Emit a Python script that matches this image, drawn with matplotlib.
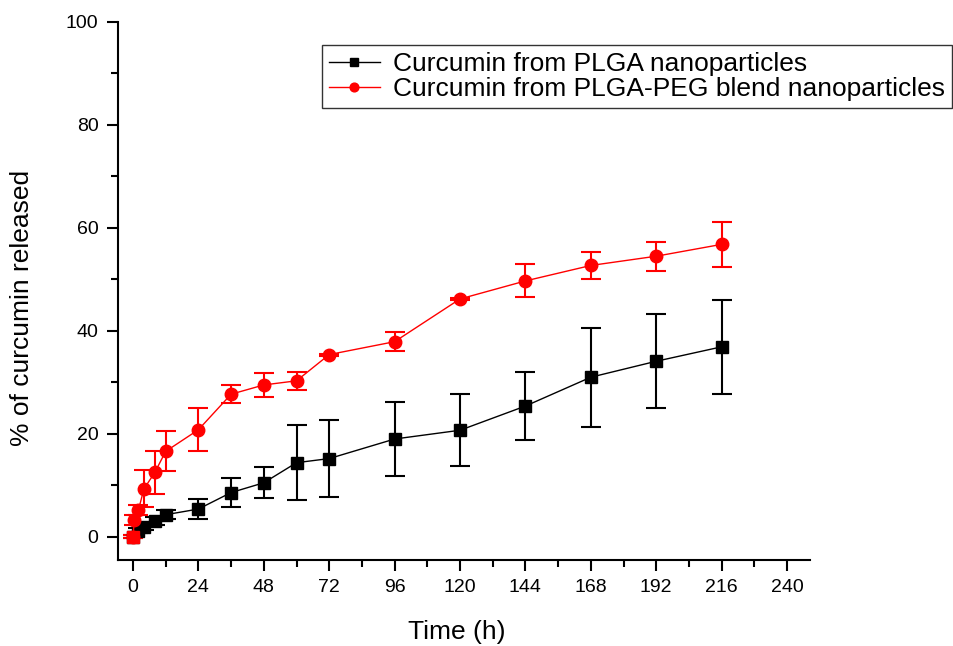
import matplotlib
matplotlib.use("Agg")
import matplotlib.pyplot as plt
from matplotlib.ticker import MultipleLocator

plt.rcParams["font.family"] = ["Liberation Sans", "DejaVu Sans"]

# Cumulative release (%) with SD, PLGA nanoparticles
t_plga = [0, 2, 4, 8, 12, 24, 36, 48, 60, 72, 96, 120, 144, 168, 192, 216]
plga = [0, 1.2, 2.0, 3.1, 4.3, 5.4, 8.6, 10.5, 14.4, 15.2, 19.0, 20.7, 25.4, 31.0, 34.1, 36.9]
plga_err = [0.3, 0.5, 0.6, 0.8, 0.9, 1.9, 2.8, 3.0, 7.3, 7.5, 7.2, 7.0, 6.6, 9.6, 9.1, 9.1]

# Cumulative release (%) with SD, PLGA-PEG blend nanoparticles
t_peg = [0, 0.5, 2, 4, 8, 12, 24, 36, 48, 60, 72, 96, 120, 144, 168, 192, 216]
peg = [0, 3.3, 5.2, 9.3, 12.5, 16.6, 20.8, 27.7, 29.5, 30.3, 35.4, 37.9, 46.2, 49.7, 52.7, 54.5, 56.8]
peg_err = [0.3, 1.0, 1.0, 3.6, 4.2, 3.9, 4.2, 1.8, 2.3, 1.8, 0.2, 1.8, 0.2, 3.2, 2.6, 2.8, 4.4]

labels = ["Curcumin from PLGA nanoparticles",
          "Curcumin from PLGA-PEG blend nanoparticles"]
x_ticks = [0, 24, 48, 72, 96, 120, 144, 168, 192, 216, 240]

fig = plt.figure(figsize=(9.54, 6.46), dpi=100)
ax = fig.add_axes([0.1237, 0.1331, 0.7253, 0.833])

# error bars first, lines and markers on top
ax.errorbar(t_plga, plga, yerr=plga_err, fmt="none", ecolor="black",
            elinewidth=1.5, capsize=7.5, capthick=1.5, zorder=2)
ax.errorbar(t_peg, peg, yerr=peg_err, fmt="none", ecolor="red",
            elinewidth=1.5, capsize=7.5, capthick=1.5, zorder=3)
h1, = ax.plot(t_plga, plga, color="black", lw=1.0, marker="s", ms=8.5,
              mec="black", label=labels[0], zorder=4)
h2, = ax.plot(t_peg, peg, color="red", lw=1.0, marker="o", ms=9,
              mec="red", label=labels[1], zorder=5)
# first PEG point sits on the PLGA start
ax.plot(t_peg[:1], peg[:1], "s", color="red", ms=8.5, zorder=6)

ax.set_xlim(-5.5, 248.4)
ax.set_ylim(-4.5, 100)
ax.set_xticks(x_ticks)
ax.xaxis.set_minor_locator(MultipleLocator(12))
ax.yaxis.set_major_locator(MultipleLocator(20))
ax.yaxis.set_minor_locator(MultipleLocator(10))

for side in ["top", "right"]:
    ax.spines[side].set_visible(False)
for side in ["left", "bottom"]:
    ax.spines[side].set_linewidth(1.5)

ax.tick_params(which="major", direction="out", length=8, width=1.5,
               labelsize=14, pad=6)
ax.tick_params(which="minor", direction="out", length=5, width=1.5)

ax.set_xlabel("Time (h)", fontsize=19)
ax.set_ylabel("% of curcumin released", fontsize=19)
ax.xaxis.set_label_coords(0.49, -0.112)
ax.yaxis.set_label_coords(-0.121, 0.468)

leg = fig.legend(handles=[h1, h2], loc="upper left",
                 bbox_to_anchor=(0.3375, 0.930), fontsize=19,
                 frameon=True, fancybox=False, handlelength=1.95,
                 handletextpad=0.5, borderpad=0.25, labelspacing=0.05,
                 markerscale=0.7, borderaxespad=0)
leg.get_frame().set_edgecolor("black")
leg.get_frame().set_linewidth(1.0)

fig.savefig("out.png", dpi=100)
